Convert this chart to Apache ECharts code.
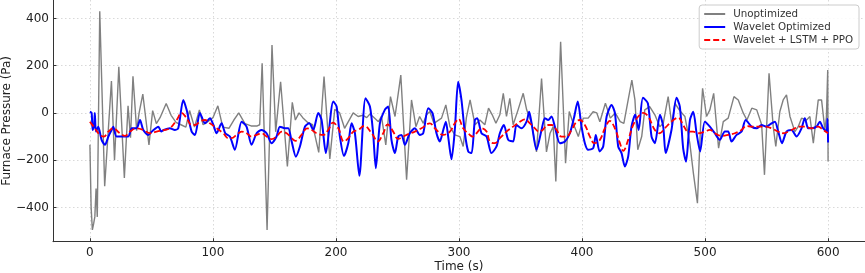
<!DOCTYPE html>
<html>
<head>
<meta charset="utf-8">
<script src="https://cdn.jsdelivr.net/npm/echarts@6/dist/echarts.min.js"></script>
<style>
html,body{margin:0;padding:0;background:#fff;}
#chart{width:865px;height:273px;}
</style>
</head>
<body>
<div id="chart"></div>
<script>
// ---- data (time in s, pressure in Pa) ----
const xTicks = [0, 100, 200, 300, 400, 500, 600];
const yTicks = [-400, -200, 0, 200, 400];
const seriesNames = ['Unoptimized', 'Wavelet Optimized', 'Wavelet + LSTM + PPO'];

const grayT = [0,1,2,3,4,5,6,8,12,17.5,20,23.5,28,31,33,35,38,40,43,48,51,54,57,62,66,70,74,78,81,85,89,92,95,100,104,108,113,117,121,126,131,136,138,140,144,148,151,155,160.5,164.5,167,170,173,177,181,186,190.3,195,199,203,207,214,218,222,225,227.5,230,234.5,237,240.5,244.3,248,252.7,257.4,261.4,265,268,271,273.6,276.3,279.6,285.8,289.3,292.6,296.6,300.7,303.4,306,309,313,317,321,324,327,330,333.2,336,338.6,341.3,344,348,352.2,355,359,363,367.1,371.1,374,376.6,378.7,382.6,386.6,389.6,392.8,397,401,405,409,412,414.5,419,423,427,431,434,437.5,440.5,443,445.3,448.5,451,455,459.2,463.2,466,470,473,475.5,479,483.6,487.6,490.5,493.8,496.6,498,501.2,503.9,507,511,514.8,518.8,523.5,527,531,534,538,542,546,548.3,552,555.4,557.5,560.8,563.5,566.2,569,573,575.7,578.4,582.5,585.2,588,592,594.7,597.4,598.6,599.7,600];
const grayV = [-135,-400,-495,-470,-440,-320,-440,430,-310,135,-200,195,-275,30,-105,155,-75,0,80,-135,10,-45,-20,40,-10,-40,-50,-60,10,-60,13,-50,-40,-20,30,-60,-65,-30,0,-45,-55,-55,-50,210,-495,287,-80,132,-227,45,-30,0,-20,-40,-50,-167,154,-195,15,0,-65,0,-15,-10,-20,-5,-15,-37,-15,-135,69,-15,160,-283,55,-58,-15,-44,-8,6,-44,-22,34,-58,-93,-100,-142,-20,55,-50,-30,-50,20,-8,-44,-8,83,-15,62,-50,13,83,13,-44,-165,146,-165,-86,-58,-290,301,-213,6,-44,-100,-22,-22,5,0,-37,41,-22,0,-37,-44,55,139,55,-156,-100,13,27,-8,-58,-44,69,-50,41,13,-15,-128,-255,-382,-20,104,-15,13,83,-149,-37,-22,69,55,0,-30,20,13,-50,-262,168,-58,-142,6,55,76,-15,-79,-58,-22,-30,-15,-128,55,55,-72,-20,182,-206];

const blueT = [0,1.4,2.2,3.3,4,4.9,6.8,9.5,12.2,15,17.6,19,21.7,31,34,38,40.7,43.4,47.4,51,55.6,58,60,65,69,71.8,75.9,78.6,82.7,85.4,89.4,93.5,97.6,100.3,103,107,110,113.8,117.8,123.3,127.3,131.4,135.5,139.5,143.6,147.7,151.7,154.4,158.5,161.2,164,167.4,170.7,174.8,178.3,181.5,185.6,188.3,191.8,197.8,200.5,203.2,206.5,210,212.7,215.4,219,224,227.6,230.2,232.4,235.7,239.7,242.4,245.1,247.9,250.6,253.3,256,260,264.1,268.2,270.9,275,278.5,281.7,284.4,287.2,289.3,291.2,293.9,296.6,299.3,302,304.8,307.5,310.2,312.9,314.8,318.3,322.4,326.4,330.5,333.2,336.5,340,344,346.7,350.8,354.9,357,359,363,367.1,369.8,372.5,375.2,377.9,382,386.1,390.1,393.4,396.5,399.6,402.3,405,409.1,411.2,414.3,417.2,420,424,426.7,429.4,432.1,434.8,437.5,440.2,443.2,446,449.5,453.5,456.5,459.2,463.3,466,468,472.7,476.8,479.5,482.2,484.5,487.7,490.4,493.1,496,499.8,503.9,507.9,512,516.1,518.8,521.5,525.6,529.7,533,537.8,541.9,545.9,550,554,556.8,559.5,562.5,566.2,570.3,574.3,578.4,581.1,583.8,586.5,590.6,593.3,596,598.7,599.5,600];
const blueV = [5,0,-72,-58,0,-79,-58,-114,-135,-100,-72,-58,-100,-100,-65,-65,-30,-72,-93,-75,-58,-79,-72,-65,-72,-65,55,13,-79,-93,0,-44,-22,-50,-86,-44,-86,-100,-156,-37,-58,-135,-86,-72,-86,-128,-100,-58,-65,-65,-121,-185,-142,-58,-44,-72,0,-30,-170,48,27,-100,-182,-128,-44,-86,-266,62,27,-86,-234,-44,13,27,-114,-170,-100,-93,-135,-86,-65,-93,-86,20,-2,-86,-121,-72,-37,-100,-196,-72,132,55,-86,-163,-170,-30,-22,-86,-100,-170,-142,-86,-51,-114,-121,-51,-65,-37,5,-44,-156,-72,-22,-30,-15,-58,-128,-121,-86,-22,48,-58,-128,-156,-149,-93,-163,-142,-15,34,0,-142,-170,-227,-185,-58,-8,-72,64,41,-100,-128,-8,-58,-170,-72,64,27,-150,-206,-30,5,-86,-163,-37,-58,-86,-114,-79,-79,-121,-93,-79,-30,-58,-65,-51,-58,-44,-37,-79,-128,-79,-72,-100,-65,-22,-65,-65,-58,-37,-65,-79,-25,-125];

const redT = [0,4,8,11.4,15,19,24.4,28.5,32.5,38,43.4,48.8,54.2,61,65,70.5,74.5,78.6,82.7,85.4,89.4,93.5,97.6,103,108.4,112.5,115.1,119.2,123.3,127.3,131.4,135.5,139.5,143.6,147.7,151.7,155.8,159.9,164,167,172,176.5,180.2,184.2,189.7,193.7,197.5,201.9,206.5,210,214.1,218.1,223,229,234,238.4,242,246.5,250.6,254.6,258.7,264.1,269.5,276.3,280.4,287.2,292.6,296.6,299.6,303.4,308.8,311,314.3,318.4,322.4,325.1,329.2,333.2,338.6,344,349.5,353.5,357.6,361.7,365,368,372,375.5,379.3,383.3,387.4,391.5,395.5,398.2,402.3,406.4,410,414.5,418.6,422.6,426.7,430.8,433.5,437.5,441.6,445.7,449.7,453.8,459.2,463.2,467.3,472.7,478.1,482.2,486.3,490.3,494.4,499.8,503.9,508,513.4,518.8,524.2,529.6,533.7,537.8,543.2,548.6,554,559.4,563.5,567.6,573,577.1,581.1,586.5,591.9,596,600];
const redV = [-37,-65,-93,-100,-79,-65,-86,-97,-79,-65,-72,-86,-79,-72,-65,-30,0,-22,-51,-51,-37,-30,-44,-65,-86,-107,-107,-93,-79,-86,-100,-93,-86,-100,-111,-100,-79,-86,-107,-118,-93,-65,-72,-86,-93,-72,-41,-65,-121,-107,-79,-72,-55,-86,-121,-86,-48,-79,-110,-100,-90,-79,-65,-44,-65,-93,-79,-44,-25,-65,-93,-100,-86,-65,-79,-121,-128,-107,-79,-58,-37,-27,-44,-65,-79,-72,-51,-51,-72,-100,-100,-72,-37,-30,-51,-100,-128,-114,-65,-34,-65,-128,-160,-114,-51,-15,0,-15,-72,-86,-65,-37,-20,-51,-79,-79,-86,-79,-72,-86,-97,-93,-86,-72,-55,-58,-58,-58,-65,-79,-86,-79,-65,-58,-58,-65,-58,-72,-86];

// ---- build ----
const zip = (t, v) => t.map((x, i) => [x, v[i]]);
const minusFmt = v => String(v).replace('-', '\u2212');
const FONT = '"DejaVu Sans", sans-serif';

const chart = echarts.init(document.getElementById('chart'), null, {renderer: 'canvas'});
chart.setOption({
  animation: false,
  backgroundColor: '#ffffff',
  grid: {left: 53, right: 0, top: 0, bottom: 31.3, containLabel: false, outerBoundsMode: 'none'},
  xAxis: {
    type: 'value', min: -30, max: 630,
    name: 'Time (s)', nameLocation: 'middle', nameGap: 19.5, nameMoveOverlap: false,
    nameTextStyle: {fontFamily: FONT, fontSize: 12, color: '#222'},
    axisLine: {show: true, onZero: false, lineStyle: {color: '#333', width: 1}},
    axisTick: {show: true, inside: true, length: 3.5, customValues: xTicks, lineStyle: {color: '#333'}},
    axisLabel: {customValues: xTicks, fontFamily: FONT, fontSize: 12, color: '#222', margin: 5, formatter: minusFmt},
    splitLine: {show: true, lineStyle: {color: '#cfcfcf', width: 0.8, type: [1.5, 2.5]}}
  },
  yAxis: {
    type: 'value', min: -545, max: 478,
    name: 'Furnace Pressure (Pa)', nameLocation: 'middle', nameGap: 40, nameMoveOverlap: false,
    nameTextStyle: {fontFamily: FONT, fontSize: 12, color: '#222'},
    axisLine: {show: true, onZero: false, lineStyle: {color: '#333', width: 1}},
    axisTick: {show: true, inside: true, length: 3.5, customValues: yTicks, lineStyle: {color: '#333'}},
    axisLabel: {customValues: yTicks, fontFamily: FONT, fontSize: 12, color: '#222', margin: 4, formatter: minusFmt},
    splitLine: {show: true, lineStyle: {color: '#cfcfcf', width: 0.8, type: [1.5, 2.5]}}
  },
  legend: {
    orient: 'vertical', right: 6, top: 5,
    padding: [4, 6, 4, 4], itemGap: 3, itemWidth: 21, itemHeight: 10,
    backgroundColor: 'rgba(255,255,255,0.85)', borderColor: '#cccccc', borderWidth: 1, borderRadius: 3,
    itemStyle: {opacity: 0},
    textStyle: {fontFamily: FONT, fontSize: 10.3, color: '#333', padding: [0, 0, 0, 3]},
    data: seriesNames
  },
  series: [
    {name: seriesNames[0], type: 'line', data: zip(grayT, grayV), symbol: 'none', z: 2,
     lineStyle: {color: '#808080', width: 1.4}, itemStyle: {color: '#808080'}},
    {name: seriesNames[1], type: 'line', data: zip(blueT, blueV), symbol: 'none', z: 3, smooth: 0.25,
     lineStyle: {color: '#0000ff', width: 2}, itemStyle: {color: '#0000ff'}},
    {name: seriesNames[2], type: 'line', data: zip(redT, redV), symbol: 'none', z: 4, smooth: 0.4,
     lineStyle: {color: '#ff0000', width: 1.8, type: [6, 3]}, itemStyle: {color: '#ff0000'}}
  ]
});
</script>
</body>
</html>
